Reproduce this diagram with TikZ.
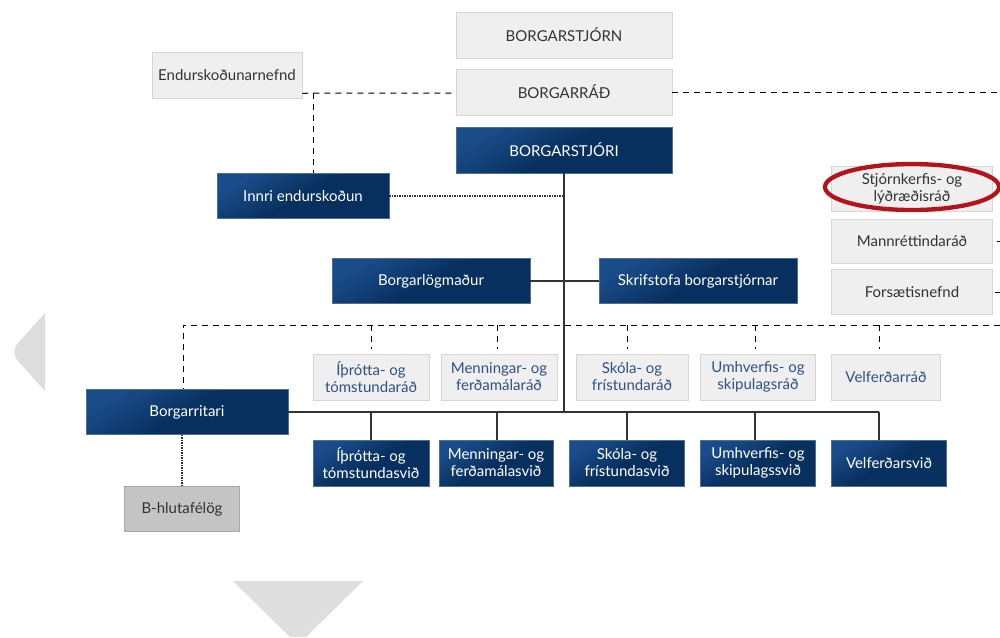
\documentclass[tikz,border=0pt]{standalone}
\usepackage{fontspec}
\setmainfont{Lato}
\definecolor{navyT}{HTML}{1B4C8A}
\definecolor{navyB}{HTML}{07305F}
\definecolor{lightF}{HTML}{EFEFEF}
\definecolor{lightD}{HTML}{D6D6D6}
\definecolor{grayF}{HTML}{C4C4C4}
\definecolor{grayD}{HTML}{A8A8A8}
\definecolor{txtdark}{HTML}{333333}
\definecolor{txtblue}{HTML}{2E5284}
\definecolor{ringred}{HTML}{B3141C}
\definecolor{deco}{HTML}{DEDEDE}
\definecolor{linec}{HTML}{333333}
\begin{document}
\begin{tikzpicture}[x=1pt,y=-1pt,
  every node/.style={font=\fontsize{15}{17}\selectfont, align=center, inner sep=0pt},
  darkbox/.style={draw=navyB!70!white, line width=0.6pt, top color=navyT, bottom color=navyB, middle color=navyB, shading angle=30, text=white, minimum height=45},
  lightbox/.style={draw=lightD, line width=0.8pt, fill=lightF, text=txtdark, minimum height=46},
  radbox/.style={lightbox, text=txtblue},
  graybox/.style={draw=grayD, line width=0.8pt, fill=grayF, text=txtdark, minimum height=45},
  solidln/.style={draw=linec, line width=1.3pt},
  dsh/.style={draw=black, line width=1pt, dash pattern=on 6pt off 5pt},
  dots/.style={draw=linec, line width=1.3pt, dash pattern=on 1.2pt off 1.3pt},
  redring/.style={draw=ringred, line width=4.3pt}]
\useasboundingbox (0,0) rectangle (1000,637);
\fill[white] (0,0) rectangle (1000,637);
% decorations
\fill[deco] (45,313) [rounded corners=11pt] -- (10,352) [sharp corners] -- (45,391) -- cycle;
\fill[deco] (233,581) -- (363,581) -- (306,637) -- (290,637) -- cycle;
% top boxes
\node[lightbox, minimum width=216] (bstjorn) at (564,35) {BORGARSTJÓRN};
\node[lightbox, minimum width=216] (brad) at (564,92) {BORGARRÁÐ};
\node[darkbox, minimum width=216, minimum height=46] (bstjori) at (564,150) {BORGARSTJÓRI};
\node[lightbox, minimum width=150] (endn) at (227,75) {Endurskoðunarnefnd};
\node[darkbox, minimum width=172] (innri) at (303,196) {Innri endurskoðun};
\node[darkbox, minimum width=198] (blog) at (431,281) {Borgarlögmaður};
\node[darkbox, minimum width=198] (skrif) at (698,281) {Skrifstofa borgarstjórnar};
% right column
\node[lightbox, minimum width=161, minimum height=45] (stjorn) at (912,189) {Stjórnkerfis- og\\lýðræðisráð};
\node[lightbox, minimum width=161, minimum height=44] (mann) at (912,241) {Mannréttindaráð};
\node[lightbox, minimum width=161, minimum height=45] (fors) at (912,292) {Forsætisnefnd};
% left
\node[darkbox, minimum width=202] (britari) at (187,412) {Borgarritari};
\node[graybox, minimum width=115] (bhluta) at (182,509) {B-hlutafélög};
% rad
\node[radbox, minimum width=116] (rad1) at (371,377) {Íþrótta- og\\tómstundaráð};
\node[radbox, minimum width=116] (rad2) at (499,377) {Menningar- og\\ferðamálaráð};
\node[radbox, minimum width=112] (rad3) at (632,377) {Skóla- og\\frístundaráð};
\node[radbox, minimum width=115] (rad4) at (758,377) {Umhverfis- og\\skipulagsráð};
\node[radbox, minimum width=109] (rad5) at (886,377) {Velferðarráð};
% svid
\node[darkbox, minimum width=116, minimum height=46] (svid1) at (371,463) {Íþrótta- og\\tómstundasvið};
\node[darkbox, minimum width=114, minimum height=46] (svid2) at (496,463) {Menningar- og\\ferðamálasvið};
\node[darkbox, minimum width=115, minimum height=46] (svid3) at (627,463) {Skóla- og\\frístundasvið};
\node[darkbox, minimum width=115, minimum height=46] (svid4) at (758,463) {Umhverfis- og\\skipulagssvið};
\node[darkbox, minimum width=115, minimum height=46] (svid5) at (889,463) {Velferðarsvið};
% red ring
\draw[redring] (912,187) ellipse [x radius=87, y radius=23];
% coordinates
\coordinate (ek) at (313,93);
\coordinate (bradR) at (1000,92);
\coordinate (dbusL) at (183,325);
\coordinate (dbusR) at (1000,325);
\coordinate (busR) at (879,412);
\coordinate (edgeR) at (1000,0);
% connectors
\draw[dsh] ([yshift=5pt]endn.south east) -- (ek) -- (brad.west |- ek);
\draw[dsh] (ek) -- (ek |- innri.north);
\draw[dsh] (brad.east) -- (bradR);
\draw[dsh] ([xshift=4pt]mann.east) -- (mann.east -| edgeR);
\draw[dsh] ([xshift=2pt]fors.east) -- (fors.east -| edgeR);
\draw[dots] (innri.east) -- (innri.east -| bstjori.south);
\draw[solidln] (bstjori.south) -- (bstjori.south |- britari.east);
\draw[solidln] (blog.east) -- (skrif.west);
\draw[dsh] (dbusR) -- (dbusL) -- (dbusL |- britari.north);
\foreach \i/\x in {1/371,2/497,3/627,4/755,5/879}{
  \draw[dsh] (\x,325) -- ([yshift=5pt]rad\i.north -| \x,0);
  \draw[solidln] (\x,412) -- (svid\i.north -| \x,0);
}
\draw[solidln] (britari.east) -- (busR);
\draw[dots] (britari.south -| bhluta.north) -- (bhluta.north);
\end{tikzpicture}
\end{document}
